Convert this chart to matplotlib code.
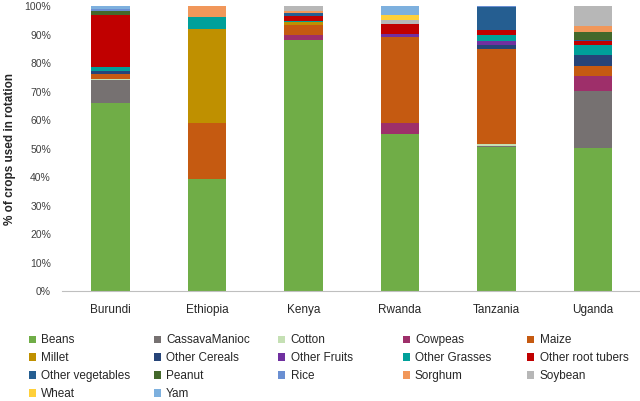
import numpy as np
import matplotlib
matplotlib.use("Agg")
import matplotlib.pyplot as plt
from matplotlib.patches import Patch
from matplotlib.ticker import PercentFormatter

countries = ["Burundi", "Ethiopia", "Kenya", "Rwanda", "Tanzania", "Uganda"]

# % of crops used in rotation, per crop, in country order above
beans = [66.0, 39.5, 88.2, 55.2, 50.4, 50.3]
cassava = [8.0, 0, 0, 0, 0.6, 20.0]
cotton = [0.5, 0, 0, 0, 0.6, 0]
cowpeas = [0, 0, 1.5, 3.7, 0, 5.2]
maize = [1.5, 19.5, 3.8, 30.2, 33.3, 3.4]
millet = [0, 33.0, 0.8, 0, 0, 0]
other_cereals = [1.2, 0, 0, 0, 1.4, 4.0]
other_fruits = [0, 0, 0, 1.2, 1.5, 0]
other_grasses = [1.3, 4.0, 0.6, 0, 2.0, 3.3]
other_root_tubers = [18.3, 0, 1.5, 3.5, 1.9, 1.5]
other_vegetables = [0, 0, 1.3, 0, 7.8, 0.5]
peanut = [1.3, 0, 0, 0, 0, 2.6]
rice = [0.7, 0, 0, 0, 0.5, 0]
sorghum = [0, 4.0, 0.6, 0, 0, 2.1]
soybean = [0, 0, 1.7, 1.3, 0, 7.1]
wheat = [0, 0, 0, 1.8, 0, 0]
yam = [1.2, 0, 0, 3.1, 0, 0]

crops = ["Beans", "CassavaManioc", "Cotton", "Cowpeas", "Maize", "Millet",
         "Other Cereals", "Other Fruits", "Other Grasses", "Other root tubers",
         "Other vegetables", "Peanut", "Rice", "Sorghum", "Soybean", "Wheat", "Yam"]
values = [beans, cassava, cotton, cowpeas, maize, millet, other_cereals,
          other_fruits, other_grasses, other_root_tubers, other_vegetables,
          peanut, rice, sorghum, soybean, wheat, yam]
colors = ["#70AD47", "#767171", "#C5E0B4", "#9E2F6A", "#C55A11", "#BF9000",
          "#264478", "#7030A0", "#00A09A", "#C00000", "#255E91", "#43682B",
          "#6A8FD2", "#F1975A", "#B7B7B7", "#FFD03A", "#7DB0DE"]

plt.rcParams["font.family"] = ["Liberation Sans", "DejaVu Sans"]

fig = plt.figure(figsize=(6.4, 4.01), dpi=100)
ax = fig.add_axes([0.097, 0.274, 0.905, 0.711])

x = np.arange(len(countries))
bottom = np.zeros(len(countries))
for name, vals, col in zip(crops, values, colors):
    vals = np.array(vals, dtype=float)
    ax.bar(x, vals, 0.4, bottom=bottom, color=col, linewidth=0, label=name)
    bottom += vals

ax.set_xlim(-0.5, len(countries) - 0.5)
ax.set_ylim(0, 100)
ax.set_yticks(np.arange(0, 101, 10))
ax.yaxis.set_major_formatter(PercentFormatter(decimals=0))
ax.set_xticks(x)
ax.set_xticklabels(countries, fontsize=8.5, color="#262626")
ax.tick_params(axis="y", length=0, labelsize=7.5, labelcolor="#404040", pad=8)
ax.tick_params(axis="x", length=0, pad=9)
for s in ["top", "right", "left"]:
    ax.spines[s].set_visible(False)
ax.spines["bottom"].set_color("#BFBFBF")
ax.set_ylabel("% of crops used in rotation", fontsize=8.5, fontweight="bold",
              color="#262626", labelpad=6)

# legend: 5 evenly spaced columns, filled row by row
ncol = 5
col_x = [0.045, 0.240, 0.435, 0.629, 0.824]
for c in range(ncol):
    idx = list(range(c, len(crops), ncol))
    handles = [Patch(facecolor=colors[i], edgecolor="none") for i in idx]
    labels = [crops[i] for i in idx]
    fig.legend(handles, labels, loc="upper left", bbox_to_anchor=(col_x[c], 0.166),
               frameon=False, fontsize=8.5, handlelength=0.6, handleheight=0.6,
               handletextpad=0.45, labelspacing=0.5, borderpad=0, borderaxespad=0,
               labelcolor="#262626")

fig.savefig("out.png", dpi=100, facecolor="white")
